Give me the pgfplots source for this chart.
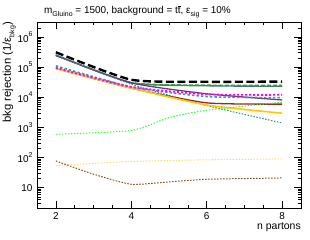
\documentclass[border=0pt]{standalone}
\usepackage{pgfplots}
\pgfplotsset{compat=1.18}
\usepackage{fontspec}
\setmainfont{Liberation Sans}
\newcommand\tp[1]{10\raisebox{0.55em}{\fontsize{7}{7}\selectfont #1}}
\newcommand\sub[1]{\raisebox{-0.3em}{\fontsize{7}{7}\selectfont #1}}
\definecolor{cblack}{RGB}{0,0,0}
\definecolor{cslate}{RGB}{70,115,115}
\definecolor{cgreen}{RGB}{50,160,60}
\definecolor{cpurple}{RGB}{120,50,120}
\definecolor{cteal}{RGB}{40,140,150}
\definecolor{cmag}{RGB}{255,0,255}
\definecolor{cteal2}{RGB}{50,160,160}
\definecolor{cred}{RGB}{150,40,40}
\definecolor{cgold}{RGB}{255,200,0}
\definecolor{clime}{RGB}{50,250,50}
\definecolor{cly}{RGB}{255,215,100}
\definecolor{cbrown}{RGB}{130,80,30}
\begin{document}
\begin{tikzpicture}
\path[use as bounding box] (0,0) rectangle (310bp,240bp);
\begin{axis}[
  name=ax,
  at={(37bp,32bp)}, anchor=south west,
  scale only axis, width=264bp, height=186bp,
  ymode=log,
  xmin=1.5, xmax=8.5, ymin=2.12, ymax=3.12e6,
  xtick={2,4,6,8}, xticklabels={2,4,6,8},
  minor x tick num=3,
  ytick={10,100,1000,10000,100000,1000000},
  yticklabels={10,\tp{2},\tp{3},\tp{4},\tp{5},\tp{6}},
  minor ytick={3,4,5,6,7,8,9,20,30,40,50,60,70,80,90,200,300,400,500,600,700,800,900,2000,3000,4000,5000,6000,7000,8000,9000,20000,30000,40000,50000,60000,70000,80000,90000,200000,300000,400000,500000,600000,700000,800000,900000,2000000,3000000},
  major tick length=7bp, minor tick length=3.5bp,
  tick style={black, line width=0.5pt},
  axis line style={line width=0.6pt},
  tick label style={font=\fontsize{10}{10}\selectfont},
  xticklabel style={yshift=-1bp},
  yticklabel style={xshift=-1bp},
  clip=true,
  every axis plot/.append style={smooth, tension=0.35},
]
\addplot[cblack, line width=2.4pt, dash pattern=on 8bp off 3.5bp] coordinates {(2,3.1e5)(4,3.8e4)(6,3.25e4)(8,3.3e4)};
\addplot[cslate, line width=1.4pt] coordinates {(2,2.5e5)(4,3.0e4)(6,2.4e4)(8,2.3e4)};
\addplot[cgreen, line width=1.6pt, dash pattern=on 4bp off 2bp] coordinates {(2,2.5e5)(4,3.05e4)(6,2.5e4)(8,2.45e4)};
\addplot[cpurple, line width=1.3pt] coordinates {(2,2.4e5)(4,3.0e4)(6,1.3e4)(8,8.1e3)};
\addplot[cteal, line width=1pt, dash pattern=on 1.5bp off 1.5bp] coordinates {(2,2.4e5)(4,2.7e4)(6,5.3e3)(8,1.4e3)};
\addplot[cred, line width=1.3pt] coordinates {(2,9e4)(4,2.0e4)(6,6.5e3)(8,5.9e3)};
\addplot[cgold, line width=1.6pt] coordinates {(2,9e4)(4,2.0e4)(6,5.5e3)(8,2.95e3)};
\addplot[cteal2, line width=1.6pt, dash pattern=on 2.5bp off 2bp] coordinates {(2,1.1e5)(4,2.2e4)(6,1.05e4)(8,9.7e3)};
\addplot[cmag, line width=1.8pt, dash pattern=on 2bp off 2bp] coordinates {(2,9.5e4)(4,2.2e4)(6,1.25e4)(8,1.2e4)};
\addplot[clime, line width=1pt, dash pattern=on 1.5bp off 1.5bp] coordinates {(2,590)(4,790)(5,2.1e3)(6,3.7e3)(8,6.8e3)};
\addplot[cly, line width=1pt, dash pattern=on 1.5bp off 1.5bp] coordinates {(2,54)(4,74)(6,84)(8,90)};
\addplot[cbrown, line width=1pt, dash pattern=on 1.5bp off 1.5bp] coordinates {(2,77)(3,28)(4,13)(5,15.5)(6,19)(8,21)};
\end{axis}
\node[anchor=base west, font=\fontsize{10}{10}\selectfont, inner sep=0pt] at ([xshift=7bp,yshift=8bp]ax.north west)
  {m\sub{Gluino} = 1500, background = t$\overline{\mbox{t}}$, ε\sub{sig} = 10\%};
\node[rotate=90, anchor=south east, font=\fontsize{11.3}{11}\selectfont, inner sep=0pt] at ([xshift=-21bp]ax.north west)
  {bkg rejection (1/ε\sub{bkg})};
\node[anchor=north east, font=\fontsize{10.5}{11}\selectfont, inner sep=0pt] at ([yshift=-15bp]ax.south east)
  {n partons};
\end{tikzpicture}
\end{document}
